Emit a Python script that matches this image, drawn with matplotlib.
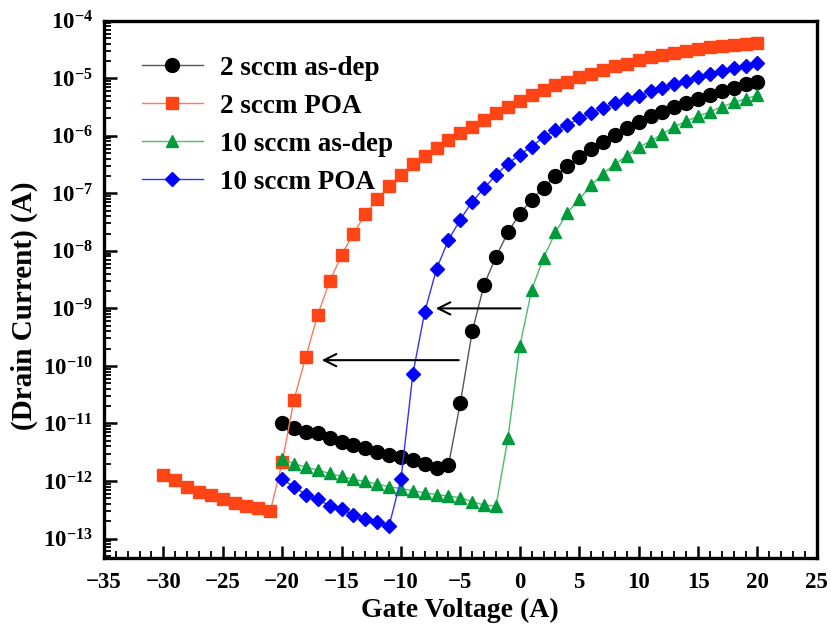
import matplotlib
matplotlib.use('Agg')
import matplotlib.pyplot as plt
from matplotlib.ticker import MultipleLocator, LogLocator, NullFormatter, FixedLocator

plt.rcParams['font.family'] = ['Liberation Serif', 'DejaVu Serif']
plt.rcParams['font.weight'] = 'bold'
plt.rcParams['mathtext.fontset'] = 'custom'
plt.rcParams['mathtext.rm'] = 'Liberation Serif:bold'
plt.rcParams['mathtext.default'] = 'rm'

# 2 sccm as-dep
v_2_asdep = list(range(-20, 21))
i_2_asdep = [1.02e-11, 8.3e-12, 7.2e-12, 6.8e-12, 5.6e-12, 4.8e-12, 4.3e-12, 3.7e-12,
             3.2e-12, 2.8e-12, 2.6e-12, 2.3e-12, 2.0e-12, 1.7e-12, 1.9e-12, 2.3e-11,
             4.0e-10, 2.6e-9, 7.9e-9, 2.1e-8, 4.4e-8, 7.8e-8, 1.26e-7, 2.0e-7, 2.95e-7,
             4.2e-7, 5.9e-7, 7.8e-7, 1.05e-6, 1.35e-6, 1.74e-6, 2.2e-6, 2.6e-6, 3.2e-6,
             3.7e-6, 4.4e-6, 5.1e-6, 6.0e-6, 6.9e-6, 7.8e-6, 8.7e-6]

# 2 sccm POA
v_2_poa = list(range(-30, 21))
i_2_poa = [1.26e-12, 1.02e-12, 7.9e-13, 6.5e-13, 5.8e-13, 4.8e-13, 4.2e-13, 3.7e-13,
           3.4e-13, 2.95e-13, 2.1e-12, 2.6e-11, 1.45e-10, 7.8e-10, 2.95e-9, 8.5e-9,
           2.0e-8, 4.3e-8, 7.9e-8, 1.32e-7, 2.1e-7, 3.2e-7, 4.4e-7, 6.2e-7, 8.5e-7,
           1.12e-6, 1.45e-6, 1.9e-6, 2.5e-6, 3.2e-6, 4.0e-6, 5.1e-6, 6.2e-6, 7.6e-6,
           8.7e-6, 1.05e-5, 1.2e-5, 1.41e-5, 1.62e-5, 1.78e-5, 2.04e-5, 2.3e-5, 2.5e-5,
           2.75e-5, 3.0e-5, 3.2e-5, 3.5e-5, 3.7e-5, 3.8e-5, 4.0e-5, 4.1e-5]

# 10 sccm as-dep
v_10_asdep = list(range(-20, 21))
i_10_asdep = [2.4e-12, 2.0e-12, 1.74e-12, 1.55e-12, 1.35e-12, 1.2e-12, 1.07e-12, 9.8e-13,
              8.9e-13, 7.9e-13, 7.4e-13, 6.8e-13, 6.2e-13, 5.8e-13, 5.5e-13, 5.1e-13,
              4.4e-13, 3.8e-13, 3.7e-13, 5.5e-12, 2.2e-10, 2.1e-9, 7.6e-9, 2.1e-8, 4.6e-8,
              7.9e-8, 1.38e-7, 2.2e-7, 3.2e-7, 4.5e-7, 6.3e-7, 8.1e-7, 1.07e-6, 1.45e-6,
              1.78e-6, 2.2e-6, 2.6e-6, 3.2e-6, 3.8e-6, 4.4e-6, 5.1e-6]

# 10 sccm POA
v_10_poa = list(range(-20, 21))
i_10_poa = [1.07e-12, 7.9e-13, 5.8e-13, 4.8e-13, 3.7e-13, 3.2e-13, 2.6e-13, 2.2e-13,
            1.95e-13, 1.66e-13, 1.07e-12, 7.2e-11, 8.7e-10, 4.9e-9, 1.55e-8, 3.5e-8,
            7.2e-8, 1.23e-7, 2.1e-7, 3.3e-7, 4.7e-7, 6.5e-7, 9.5e-7, 1.26e-6, 1.55e-6,
            2.0e-6, 2.5e-6, 3.0e-6, 3.7e-6, 4.4e-6, 5.0e-6, 5.9e-6, 6.9e-6, 7.9e-6,
            9.1e-6, 1.05e-5, 1.17e-5, 1.35e-5, 1.51e-5, 1.66e-5, 1.86e-5]

y_ticks = [1e-13, 1e-12, 1e-11, 1e-10, 1e-9, 1e-8, 1e-7, 1e-6, 1e-5, 1e-4]

fig = plt.figure(figsize=(8.31, 6.29), dpi=100)
ax = fig.add_axes([0.125, 0.113, 0.858, 0.854])

ax.plot(v_2_asdep, i_2_asdep, '-o', color='#555555', lw=1, ms=10,
        mfc='black', mec='black', label='2 sccm as-dep')
ax.plot(v_2_poa, i_2_poa, '-s', color='#FF7A5C', lw=1, ms=9,
        mfc='#FF4515', mec='#FF4515', label='2 sccm POA')
ax.plot(v_10_asdep, i_10_asdep, '-^', color='#4DBB6E', lw=1, ms=9,
        mfc='#009B3A', mec='#009B3A', label='10 sccm as-dep')
ax.plot(v_10_poa, i_10_poa, '-D', color='#3333FF', lw=1, ms=7.5,
        mfc='#0000FF', mec='#0000FF', label='10 sccm POA')

# shift arrows
ax.annotate('', xy=(-7.3, 1e-9), xytext=(0.3, 1e-9),
            arrowprops=dict(arrowstyle='->', lw=1.5, color='black', mutation_scale=22))
ax.annotate('', xy=(-16.9, 1.26e-10), xytext=(-4.9, 1.26e-10),
            arrowprops=dict(arrowstyle='->', lw=1.5, color='black', mutation_scale=22))

ax.set_yscale('log')
ax.set_xlim(-35, 25)
ax.set_ylim(4.6e-14, 1e-4)
ax.xaxis.set_major_locator(MultipleLocator(5))
ax.xaxis.set_minor_locator(MultipleLocator(1))
ax.yaxis.set_major_locator(FixedLocator(y_ticks))
ax.yaxis.set_minor_locator(LogLocator(base=10, subs=range(2, 10), numticks=20))
ax.yaxis.set_minor_formatter(NullFormatter())

ax.tick_params(which='both', direction='in', top=False, right=False, labelsize=16.5)
ax.tick_params(which='major', length=9, width=1.8)
ax.tick_params(which='minor', length=5, width=1.3)
ax.tick_params(axis='x', which='major', pad=10)
ax.tick_params(axis='y', which='major', pad=8)
for s in ax.spines.values():
    s.set_linewidth(2.4)

ax.set_xlabel('Gate Voltage (A)', fontsize=20, fontweight='bold')
ax.set_ylabel('(Drain Current) (A)', fontsize=21, fontweight='bold')
ax.xaxis.set_label_coords(0.5, -0.074)
ax.yaxis.set_label_coords(-0.092, 0.47)

ax.legend(loc='upper left', bbox_to_anchor=(0.053, 0.935), frameon=False,
          borderpad=0, borderaxespad=0, fontsize=19.5, handlelength=2.25,
          handletextpad=0.63, labelspacing=0.48)

fig.savefig('out.png', dpi=100)
